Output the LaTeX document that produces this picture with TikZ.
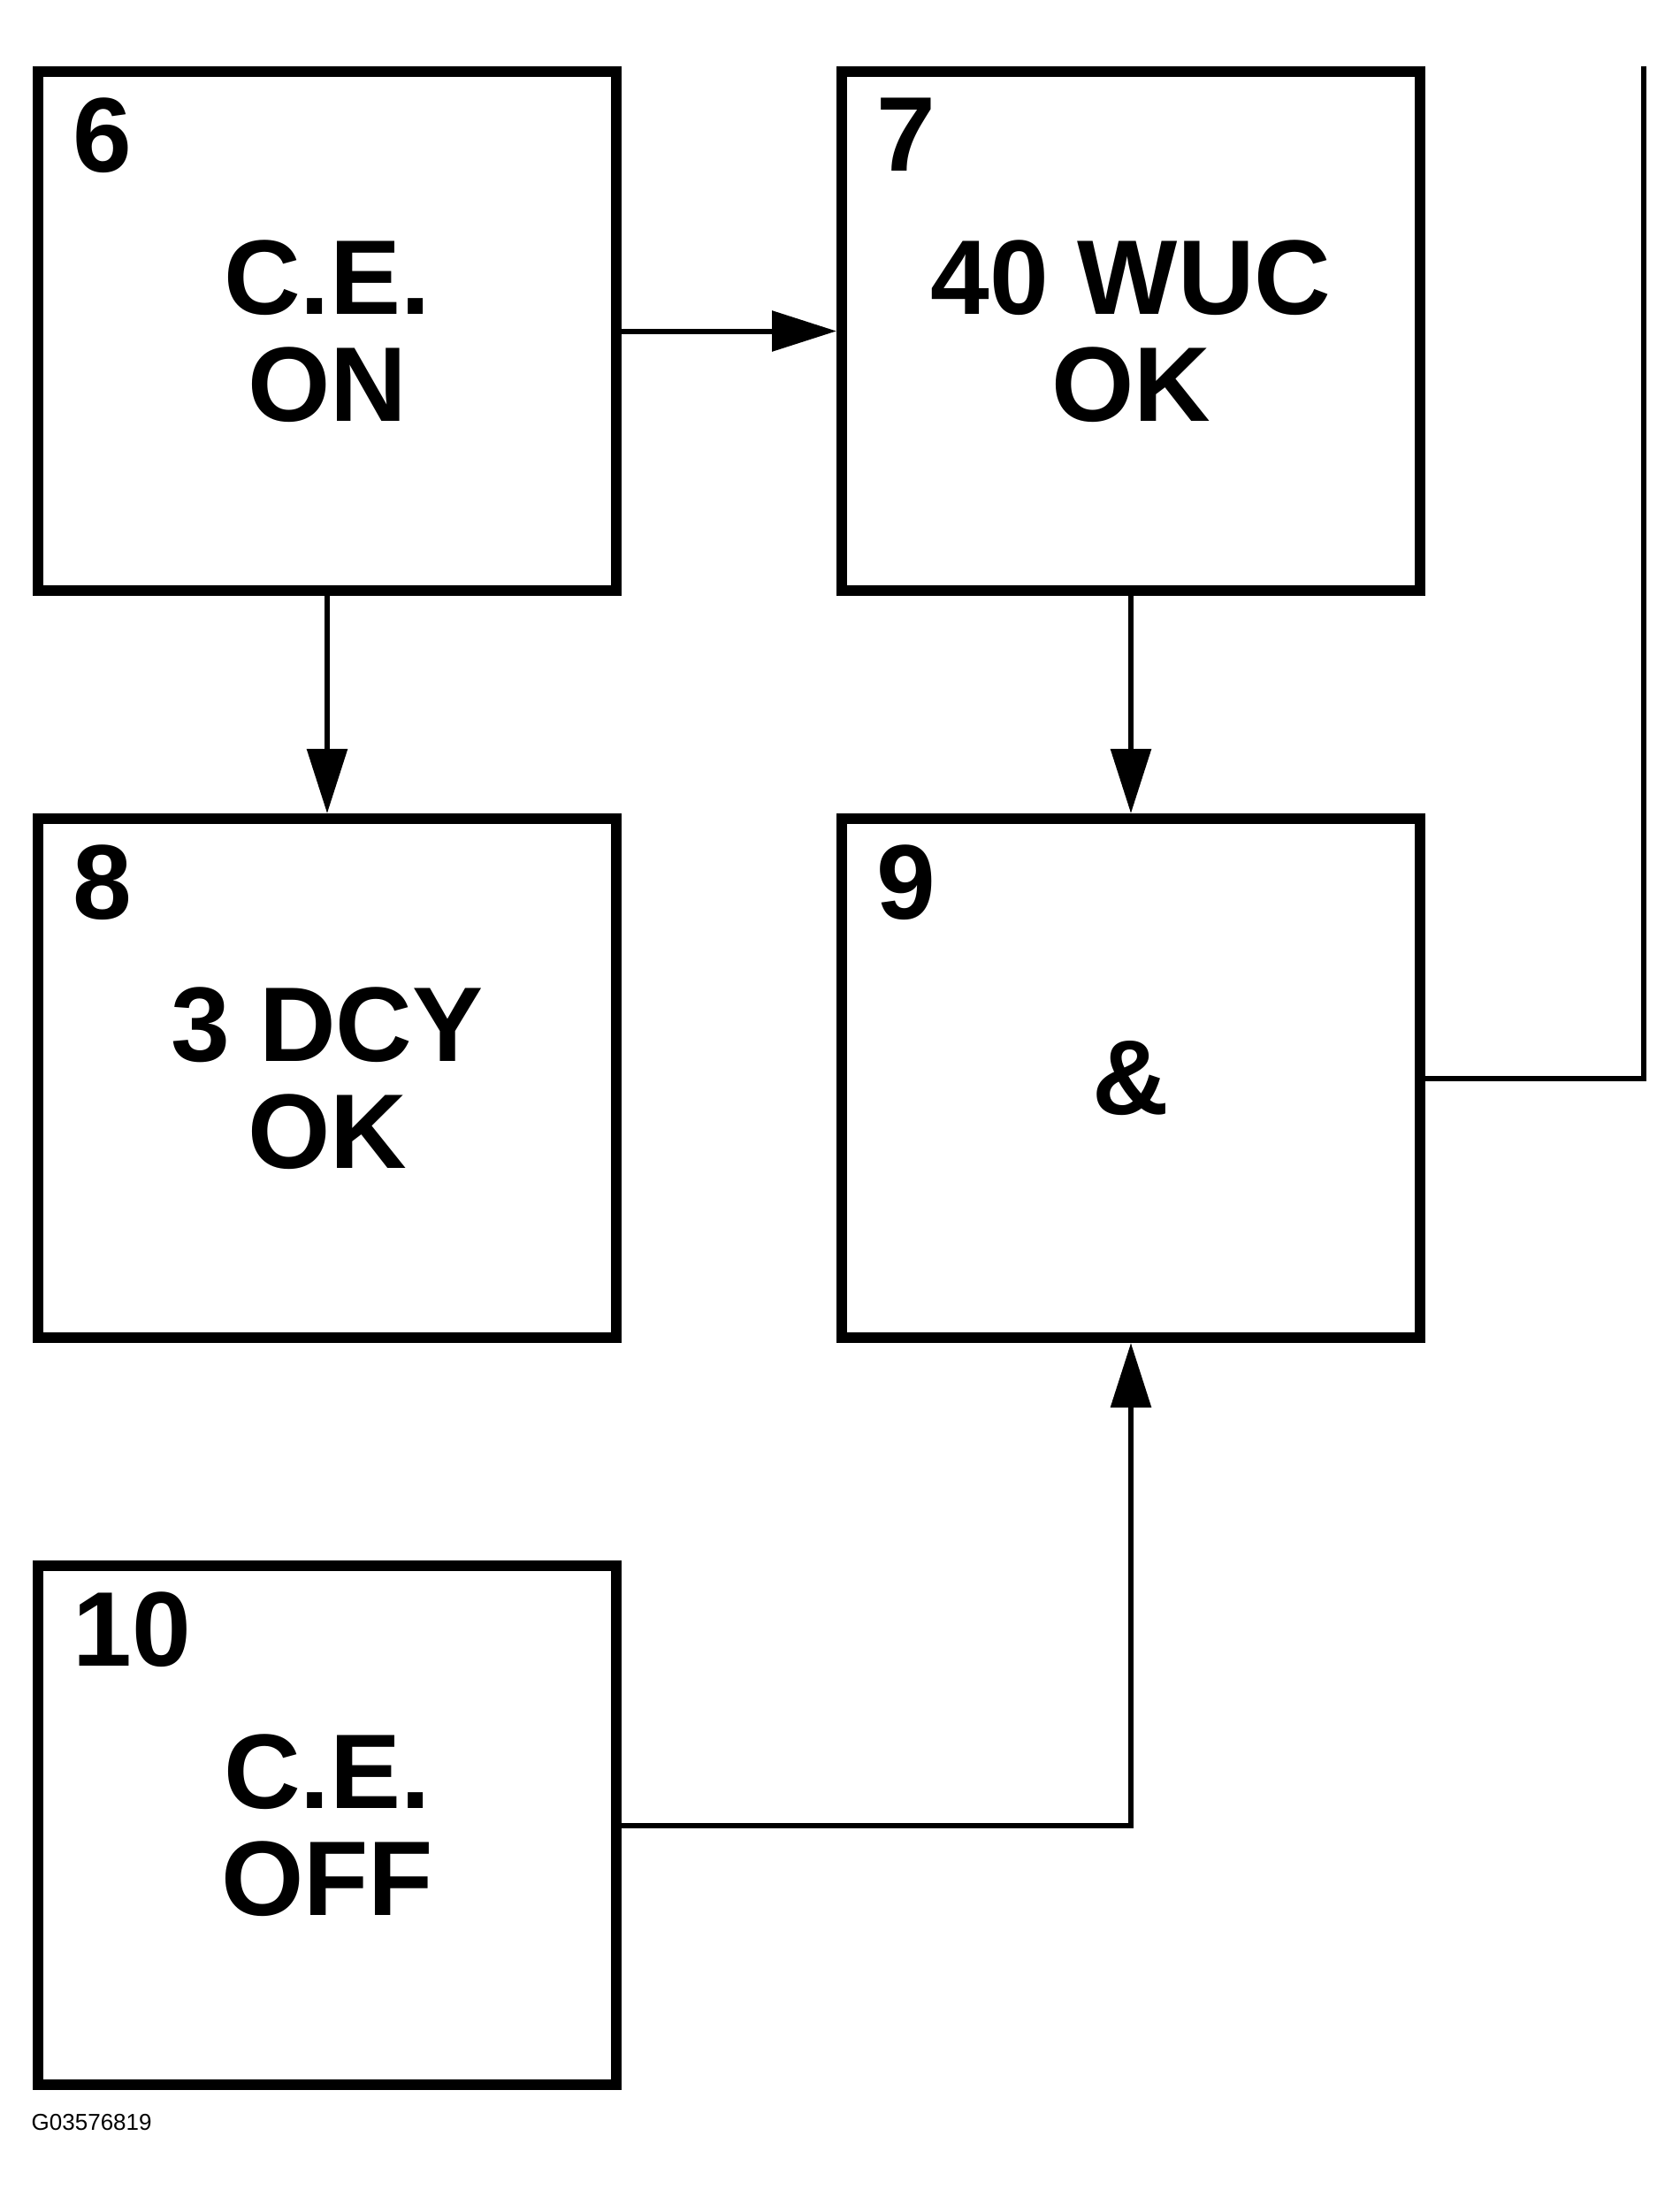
\documentclass[tikz,border=0pt]{standalone}
\usepackage{fontspec}
\setmainfont{Liberation Sans}
\usepackage{tikz}
\usetikzlibrary{positioning, arrows.meta}

\begin{document}
\begin{tikzpicture}[
            box/.style={draw, line width=0.12cm, minimum width=6.54cm, minimum height=5.87cm,
                inner sep=0pt, align=center, font=\bfseries\fontsize{34.14pt}{34.43pt}\selectfont},
            num/.style={anchor=north west, inner sep=0pt, xshift=0.45cm, yshift=-0.35cm,
                font=\bfseries\fontsize{34.14pt}{34.43pt}\selectfont},
            conn/.style={line width=0.06cm, -{Triangle[length=0.73cm, width=0.45cm]}},
            wire/.style={line width=0.06cm},
            node distance=2.46cm and 2.43cm]
            \useasboundingbox (0,0) rectangle (18.99,-24.85);
            \node[box, label={[num]north west:6}] (b6) at (3.70,-3.745) {C.E.\\ON};
            \node[box, right=of b6, label={[num]north west:7}] (b7) {40 WUC\\OK};
            \node[box, below=of b6, label={[num]north west:8}] (b8) {3 DCY\\OK};
            \node[box, below=of b7, label={[num]north west:9}] (b9) {\&};
            \node[box, below=of b8, label={[num]north west:10}] (b10) {C.E.\\OFF};
            \node[anchor=base west, inner sep=0pt, font=\fontsize{7.4pt}{9pt}\selectfont]
                (gid) at ([xshift=-0.02cm, yshift=-0.45cm]b10.south west) {G03576819};
            \coordinate (top) at ([xshift=2.47cm]b9.east |- b7.north);

            \draw[conn] (b6) -- (b7);
            \draw[conn] (b6) -- (b8);
            \draw[conn] (b7) -- (b9);
            \draw[conn] (b10.east) -| (b9.south);
            \draw[wire] (b9.east) -| (top);
        \end{tikzpicture}
\end{document}
